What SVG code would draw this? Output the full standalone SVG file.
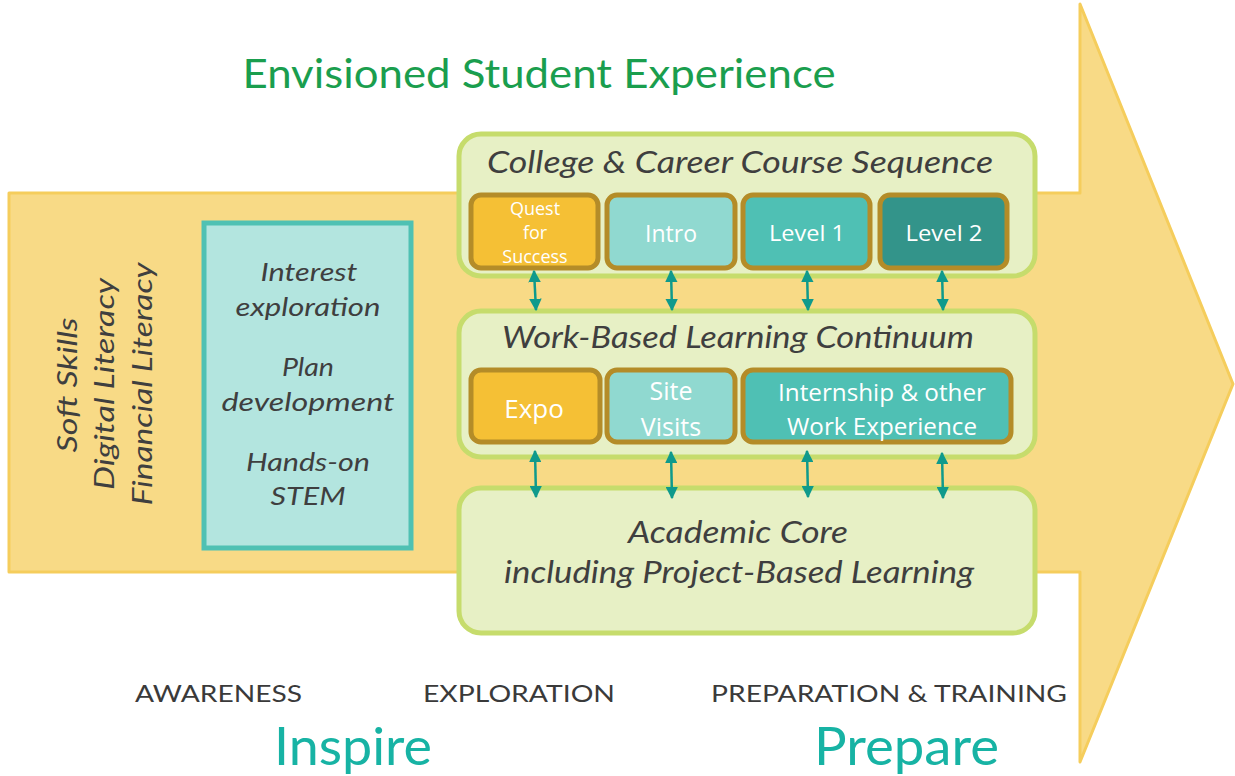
<svg xmlns="http://www.w3.org/2000/svg" width="1235" height="776" viewBox="0 0 1235 776">
<style>
.ital{font-family:Lato,"Open Sans","Liberation Sans",sans-serif;font-style:italic;fill:#3f3f3f;text-anchor:middle}
.grp{fill:#e7f0c5;stroke:#c6dc6c;stroke-width:5}
.sub{stroke:#b48c28;stroke-width:5}
.wt{font-family:"Open Sans","Liberation Sans",sans-serif;fill:#ffffff;text-anchor:middle}
.cap{font-family:Lato,"Open Sans","Liberation Sans",sans-serif;fill:#3a3a3a;font-size:24px}
.big{font-family:Lato,"Open Sans","Liberation Sans",sans-serif;fill:#17b3a4;font-size:52px}
.conn{stroke:#0f9a8c;stroke-width:2.5;fill:none;marker-start:url(#ah);marker-end:url(#ah)}
</style>
<defs>
<marker id="ah" viewBox="0 0 10 10" refX="9" refY="5" markerWidth="5" markerHeight="5" orient="auto-start-reverse" markerUnits="strokeWidth">
<path d="M0,0 L10,5 L0,10 z" fill="#0f9a8c"/>
</marker>
</defs>
<rect width="1235" height="776" fill="#ffffff"/>
<g id="big-arrow">
<path d="M9,193 L1080,193 L1080,4 L1233,384 L1080,762 L1080,572 L9,572 Z" fill="#f8da86" stroke="#f5cd5c" stroke-width="3" stroke-linejoin="round"/>
</g>
<g id="title">
<text x="539" y="88" font-family="Lato,'Open Sans','Liberation Sans',sans-serif" font-size="40" fill="#1a9e4e" text-anchor="middle" textLength="593" lengthAdjust="spacingAndGlyphs">Envisioned Student Experience</text>
</g>
<g id="literacy">
<text class="ital" font-size="27" transform="translate(77,385) rotate(-90)" textLength="135" lengthAdjust="spacingAndGlyphs">Soft Skills</text>
<text class="ital" font-size="27" transform="translate(114,384) rotate(-90)" textLength="212" lengthAdjust="spacingAndGlyphs">Digital Literacy</text>
<text class="ital" font-size="27" transform="translate(152,384) rotate(-90)" textLength="243" lengthAdjust="spacingAndGlyphs">Financial Literacy</text>
</g>
<g id="awareness-box">
<rect x="204" y="223" width="207" height="325" fill="#b3e5df" stroke="#4fc1b3" stroke-width="5"/>
<text class="ital" font-size="26" x="309" y="281" textLength="97" lengthAdjust="spacingAndGlyphs">Interest</text>
<text class="ital" font-size="26" x="308" y="316" textLength="145" lengthAdjust="spacingAndGlyphs">exploration</text>
<text class="ital" font-size="26" x="308" y="376" textLength="52" lengthAdjust="spacingAndGlyphs">Plan</text>
<text class="ital" font-size="26" x="308" y="411" textLength="173" lengthAdjust="spacingAndGlyphs">development</text>
<text class="ital" font-size="26" x="308" y="471" textLength="124" lengthAdjust="spacingAndGlyphs">Hands-on</text>
<text class="ital" font-size="26" x="308" y="505" textLength="75" lengthAdjust="spacingAndGlyphs">STEM</text>
</g>
<g id="course-sequence">
<rect class="grp" x="459" y="134" width="576" height="142" rx="22"/>
<text class="ital" font-size="30" x="740" y="173" textLength="506" lengthAdjust="spacingAndGlyphs">College &amp; Career Course Sequence</text>
</g>
<g id="quest">
<rect class="sub" x="471" y="195" width="127" height="73" rx="10" fill="#f5c035"/>
<text class="wt" font-size="18" x="535" y="215">Quest</text>
<text class="wt" font-size="18" x="535" y="239">for</text>
<text class="wt" font-size="18" x="535" y="263">Success</text>
</g>
<g id="intro">
<rect class="sub" x="607" y="195" width="128" height="73" rx="10" fill="#90d9d0"/>
<text class="wt" font-size="23" x="671" y="242">Intro</text>
</g>
<g id="level1">
<rect class="sub" x="743" y="195" width="127" height="73" rx="10" fill="#4fc0b4"/>
<text class="wt" font-size="22" x="807" y="241" textLength="76" lengthAdjust="spacingAndGlyphs">Level 1</text>
</g>
<g id="level2">
<rect class="sub" x="880" y="195" width="127" height="73" rx="10" fill="#33948a"/>
<text class="wt" font-size="22" x="944" y="241" textLength="77" lengthAdjust="spacingAndGlyphs">Level 2</text>
</g>
<g id="work-based">
<rect class="grp" x="459" y="311" width="576" height="146" rx="22"/>
<text class="ital" font-size="30" x="738" y="348" textLength="472" lengthAdjust="spacingAndGlyphs">Work-Based Learning Continuum</text>
</g>
<g id="expo">
<rect class="sub" x="471" y="370" width="129" height="72" rx="10" fill="#f5c035"/>
<text class="wt" font-size="26" x="534" y="418">Expo</text>
</g>
<g id="site-visits">
<rect class="sub" x="607" y="370" width="128" height="72" rx="10" fill="#90d9d0"/>
<text class="wt" font-size="25" x="671" y="400">Site</text>
<text class="wt" font-size="25" x="671" y="436">Visits</text>
</g>
<g id="internship">
<rect class="sub" x="743" y="370" width="268" height="72" rx="10" fill="#4fc0b4"/>
<text class="wt" font-size="23" x="882" y="401" textLength="208" lengthAdjust="spacingAndGlyphs">Internship &amp; other</text>
<text class="wt" font-size="23" x="882" y="435" textLength="190" lengthAdjust="spacingAndGlyphs">Work Experience</text>
</g>
<g id="academic-core">
<rect class="grp" x="459" y="488" width="576" height="145" rx="22"/>
<text class="ital" font-size="30" x="738" y="543" textLength="220" lengthAdjust="spacingAndGlyphs">Academic Core</text>
<text class="ital" font-size="30" x="739" y="583" textLength="470" lengthAdjust="spacingAndGlyphs">including Project-Based Learning</text>
</g>
<g id="connectors">
<line class="conn" x1="534" y1="271" x2="536" y2="310"/>
<line class="conn" x1="671" y1="271" x2="672" y2="310"/>
<line class="conn" x1="807" y1="271" x2="808" y2="310"/>
<line class="conn" x1="942" y1="271" x2="943" y2="310"/>
<line class="conn" x1="535" y1="451" x2="536" y2="497"/>
<line class="conn" x1="671" y1="452" x2="672" y2="498"/>
<line class="conn" x1="807" y1="451" x2="808" y2="497"/>
<line class="conn" x1="942" y1="453" x2="943" y2="498"/>
</g>
<g id="stages">
<text class="cap" x="135" y="702" textLength="167" lengthAdjust="spacingAndGlyphs">AWARENESS</text>
<text class="cap" x="423" y="702" textLength="192" lengthAdjust="spacingAndGlyphs">EXPLORATION</text>
<text class="cap" x="711" y="702" textLength="356" lengthAdjust="spacingAndGlyphs">PREPARATION &amp; TRAINING</text>
<text class="big" x="274" y="765" textLength="158" lengthAdjust="spacingAndGlyphs">Inspire</text>
<text class="big" x="814" y="765" textLength="185" lengthAdjust="spacingAndGlyphs">Prepare</text>
</g>
</svg>
